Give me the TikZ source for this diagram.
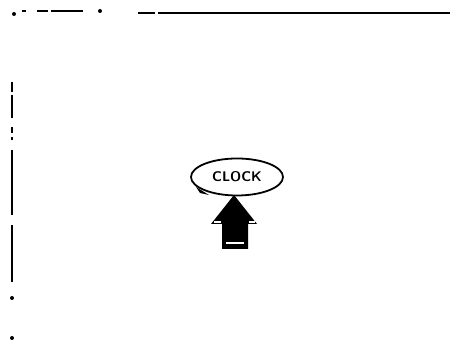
\documentclass[tikz,border=0pt]{standalone}
\usepackage{tikz}
\usetikzlibrary{shapes.geometric}

\begin{document}
\begin{tikzpicture}[x=0.5pt, y=-0.5pt]
      \useasboundingbox (0,0) rectangle (450,340);

      \tikzset{rule/.style={black, line width=1pt}}

      % broken frame, top edge
      \fill (14,14) circle (1pt);
      \draw[rule] (22,11) -- (26,11);
      \draw[rule] (37,11) -- (48,11);
      \draw[rule] (51,11) -- (83,11);
      \fill (100,11) circle (1pt);
      \draw[rule] (138,13) -- (155,13);
      \draw[rule] (158,13) -- (450,13);

      % broken frame, left edge
      \draw[rule] (12,82) -- (12,92);
      \draw[rule] (12,95) -- (12,118);
      \draw[rule] (12,127) -- (12,133);
      \draw[rule] (12,137) -- (12,140);
      \draw[rule] (12,150) -- (12,215);
      \draw[rule] (12,225) -- (12,282);
      \fill (12,298) circle (1pt);
      \fill (12,338) circle (1pt);

      \node[draw, ellipse, line width=0.9pt, minimum width=46pt, minimum height=18.5pt,
            inner sep=1pt, font=\sffamily\bfseries\scriptsize] (clock) at (237,177) {CLOCK};
      \fill[black] (196,187) -- (209,195) -- (200,193) -- cycle;

      % up arrow
      \coordinate (tip) at (234,195);
      \fill[black] (tip) -- (257,224) -- (248,224) -- (248,249) -- (222,249)
                   -- (222,224) -- (211,224) -- cycle;
      \draw[white, line width=0.8pt] (226,243) -- (244,243);
      \draw[white, line width=0.6pt] (214,222) -- (221,222);
      \draw[white, line width=0.6pt] (249,222) -- (255,222);
\end{tikzpicture}
\end{document}
